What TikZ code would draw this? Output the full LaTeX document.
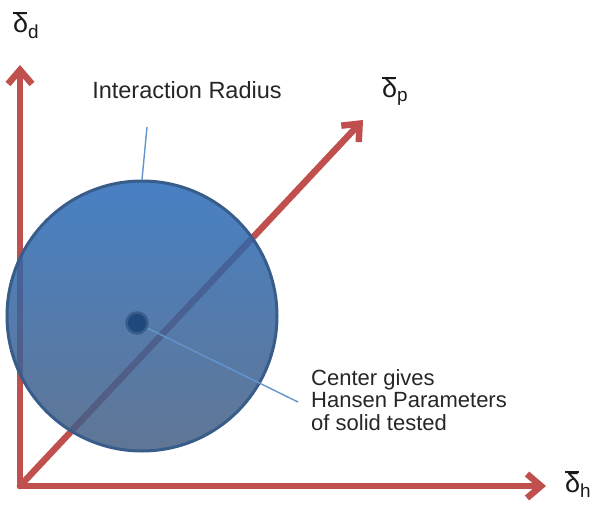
\documentclass[tikz,border=0pt]{standalone}
\usepackage{fontspec}
\setmainfont{Liberation Sans}
\usepackage{xcolor}
\usetikzlibrary{arrows.meta,positioning}
\definecolor{axisred}{RGB}{192,80,77}
\definecolor{rimblue}{RGB}{56,93,138}
\definecolor{leadblue}{RGB}{100,148,205}
\definecolor{coreblue}{RGB}{31,73,125}
\definecolor{topblue}{RGB}{40,106,185}
\definecolor{lowblue}{RGB}{68,94,131}
\newcommand{\dlt}{\rlap{\rule[0.69em]{0.5em}{0.075em}}δ}

\begin{document}
\begin{tikzpicture}[
  x=1pt,y=1pt,
  axis/.style={-{Straight Barb[length=14pt,width=24pt]},line width=6.5pt,
               draw=axisred,line cap=round,line join=round},
  lead/.style={draw=leadblue,line width=1.4pt},
  lbl/.style={font=\fontsize{22}{22.5}\selectfont,text=black!85,inner sep=0pt},
  sym/.style={font=\fontsize{27}{30}\selectfont,text=black!90,inner sep=0pt}
]
\useasboundingbox (0,0) rectangle (596,504);
\coordinate (O) at (20,18);
\coordinate (dtip) at (20,439);
\coordinate (htip) at (546,18);
\coordinate (ptip) at (363,384);
\draw[axis] (O) -- (dtip);
\draw[axis] (O) -- (htip);
\draw[axis] (O) -- (ptip);
\node[circle,minimum size=270pt,inner sep=0pt,line width=3pt,draw=rimblue,
      top color=topblue,bottom color=lowblue,fill opacity=0.85] (sphere) at (142,188) {};
\coordinate (radtail) at (147,377);
\coordinate (centail) at (298,102);
\node[circle,minimum size=21pt,inner sep=0pt,fill=coreblue,draw=rimblue,
      line width=2.5pt] (core) at (137,181) {};
\draw[lead] (radtail) -- (sphere.north);
\draw[lead] (core) -- (centail);
\node[lbl,font=\fontsize{23.5}{26}\selectfont,anchor=base] (radlbl) at (187,405) {Interaction Radius};
\node[lbl,anchor=north west,align=left] (cenlbl) at (311,135)
  {Center gives\\Hansen Parameters\\of solid tested};
\node[sym,anchor=base west] (dlbl) at (13,471) {\dlt\textsubscript{d}};
\node[sym,anchor=base west] (plbl) at (382,406) {\dlt\textsubscript{p}};
\node[sym,anchor=base west] (hlbl) at (565,12) {\dlt\textsubscript{h}};
\end{tikzpicture}
\end{document}
